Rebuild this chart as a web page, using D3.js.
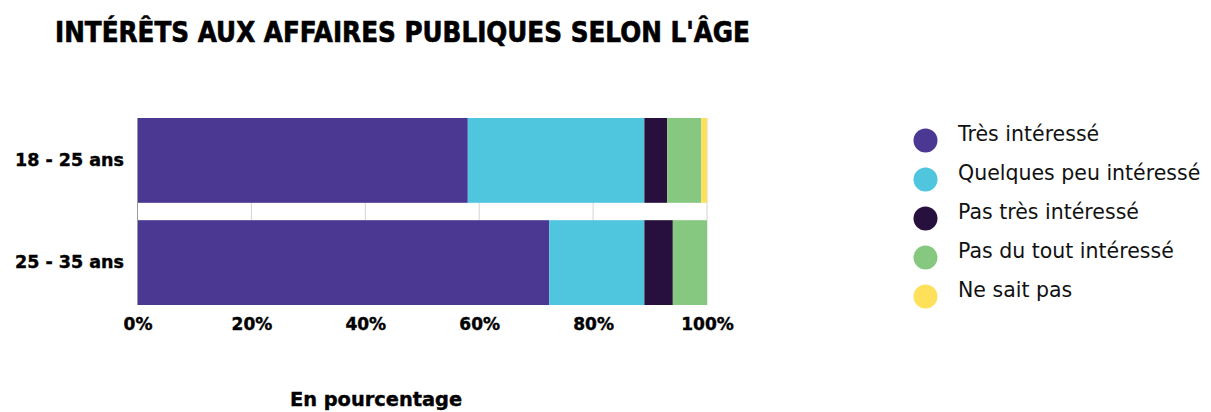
<!DOCTYPE html>
<html><head><meta charset="utf-8">
<script src="https://cdn.jsdelivr.net/npm/d3@7"></script>
<style>body{margin:0;background:#fff;} svg{display:block;font-family:"DejaVu Sans",sans-serif;}</style>
</head><body>
<svg id="c" width="1211" height="412"></svg>
<script>
const categories = ["18 - 25 ans", "25 - 35 ans"];
const seriesNames = ["Très intéressé", "Quelques peu intéressé", "Pas très intéressé", "Pas du tout intéressé", "Ne sait pas"];
const tresInteresse = [58, 72.3];
const quelquesPeu = [31, 16.7];
const pasTres = [4, 5];
const pasDuTout = [6, 6];
const neSaitPas = [1, 0];
const tickValues = [0, 20, 40, 60, 80, 100];
const colors = ["#4B3893", "#4FC5DE", "#27103E", "#86C87F", "#FEE05A"];

const seriesValues = [tresInteresse, quelquesPeu, pasTres, pasDuTout, neSaitPas];
const rows = categories.map((c, i) => {
  const o = {cat: c};
  seriesNames.forEach((s, j) => o[s] = seriesValues[j][i]);
  return o;
});
const stacked = d3.stack().keys(seriesNames)(rows);

const svg = d3.select("#c");
const FONT = "'DejaVu Sans', sans-serif";
const x = d3.scaleLinear().domain([0, 100]).range([137.5, 707]);
const y = d3.scaleBand().domain(categories).range([118, 305]).paddingInner(0.17).paddingOuter(0);
const color = d3.scaleOrdinal().domain(seriesNames).range(colors);

// gridlines
svg.append("g").selectAll("line").data(tickValues.slice(1)).join("line")
  .attr("x1", d => x(d)).attr("x2", d => x(d))
  .attr("y1", 118).attr("y2", 305)
  .attr("stroke", "#d4d4d4").attr("stroke-width", 1);

svg.append("g").selectAll("g").data(stacked).join("g")
  .attr("fill", d => color(d.key))
  .selectAll("rect").data(d => d).join("rect")
  .attr("x", d => x(d[0])).attr("width", d => x(d[1]) - x(d[0]))
  .attr("y", d => y(d.data.cat)).attr("height", y.bandwidth());

// y axis line
svg.append("line").attr("x1", 137.5).attr("x2", 137.5).attr("y1", 118).attr("y2", 305)
  .attr("stroke", "#999").attr("stroke-width", 1);

// x axis
const xa = svg.append("g").attr("transform", "translate(0,305)")
  .call(d3.axisBottom(x).tickValues(tickValues).tickFormat(d => d + "%").tickSize(0).tickPadding(13));
xa.select(".domain").remove();
xa.selectAll("text").attr("font-size", 17).attr("font-weight", 700).attr("fill", "#000")
  .attr("stroke", "#000").attr("stroke-width", 0.4).attr("font-family", FONT);

// y axis labels
const ya = svg.append("g").attr("transform", "translate(137.5,0)")
  .call(d3.axisLeft(y).tickSize(0).tickPadding(13.5));
ya.select(".domain").remove();
ya.selectAll("text").attr("font-size", 17.5).attr("font-weight", 700).attr("fill", "#000")
  .attr("stroke", "#000").attr("stroke-width", 0.4).attr("font-family", FONT);

// title
svg.append("text").attr("x", 55).attr("y", 42).attr("font-size", 29).attr("font-weight", 700)
  .attr("fill", "#000").attr("stroke", "#000").attr("stroke-width", 0.7)
  .attr("textLength", 695).attr("lengthAdjust", "spacingAndGlyphs")
  .text("INTÉRÊTS AUX AFFAIRES PUBLIQUES SELON L'ÂGE");

// axis title
svg.append("text").attr("x", 376).attr("y", 406).attr("text-anchor", "middle")
  .attr("font-size", 19.4).attr("font-weight", 700).attr("fill", "#000")
  .attr("stroke", "#000").attr("stroke-width", 0.4).text("En pourcentage");

// legend
const lg = svg.append("g").selectAll("g").data(seriesNames).join("g")
  .attr("transform", (d, i) => `translate(925.5,${140.5 + i * 39})`);
lg.append("circle").attr("r", 12).attr("fill", d => color(d));
lg.append("text").attr("x", 32.5).attr("y", 0)
  .attr("font-size", 20.5).attr("fill", "#111").text(d => d);
</script>
</body></html>
